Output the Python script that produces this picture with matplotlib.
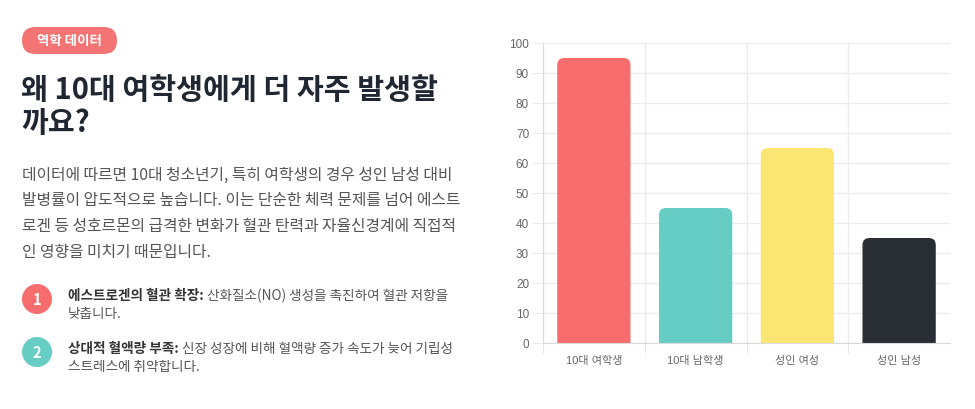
import matplotlib
matplotlib.use("Agg")
import matplotlib.pyplot as plt
from matplotlib.patches import FancyBboxPatch, Circle, PathPatch
from matplotlib.path import Path

plt.rcParams['font.family'] = ['Noto Sans CJK KR', 'DejaVu Sans']

# chart data
categories = ['10대 여학생', '10대 남학생', '성인 여성', '성인 남성']
values = [95, 45, 65, 35]
bar_colors = ['#F76D6D', '#66CDC4', '#FCE673', '#292D34']
y_ticks = list(range(0, 101, 10))

# text content
badge = '역학 데이터'
title_lines = ['왜 10대 여학생에게 더 자주 발생할', '까요?']
para_lines = [
    '데이터에 따르면 10대 청소년기, 특히 여학생의 경우 성인 남성 대비',
    '발병률이 압도적으로 높습니다. 이는 단순한 체력 문제를 넘어 에스트',
    '로겐 등 성호르몬의 급격한 변화가 혈관 탄력과 자율신경계에 직접적',
    '인 영향을 미치기 때문입니다.',
]
items = [
    ('1', '에스트로겐의 혈관 확장:', ' 산화질소(NO) 생성을 촉진하여 혈관 저항을', '낮춥니다.', '#F76D6D'),
    ('2', '상대적 혈액량 부족:', ' 신장 성장에 비해 혈액량 증가 속도가 늦어 기립성', '스트레스에 취약합니다.', '#66CDC4'),
]

W, H = 975, 410
fig = plt.figure(figsize=(W / 100, H / 100), dpi=100)
fig.patch.set_facecolor('white')

# full-figure axes in pixel units for the text panel
bg = fig.add_axes([0, 0, 1, 1])
bg.set_xlim(0, W)
bg.set_ylim(H, 0)
bg.axis('off')

bg.add_patch(FancyBboxPatch((22, 28), 95, 27, boxstyle='round,pad=0,rounding_size=13.5',
                            fc='#F47373', ec='none'))
bg.text(69.5, 41.5, badge, color='white', fontsize=9.7, fontweight='bold', ha='center', va='center')

for i, line in enumerate(title_lines):
    bg.text(21, 90 + i * 33, line, color='#1F2733', fontsize=21, fontweight='bold', va='center')

for i, line in enumerate(para_lines):
    bg.text(22, 175 + i * 25.7, line, color='#555555', fontsize=11.4, va='center')

for i, (num, head, rest, line2, col) in enumerate(items):
    cy = 300 + i * 53
    bg.add_patch(Circle((37, cy), 15, fc=col, ec='none'))
    bg.text(37, cy, num, color='white', fontsize=10.5, fontweight='bold', ha='center', va='center')
    t = bg.text(68, cy - 4, head, color='#333333', fontsize=9.8, fontweight='bold', va='center')
    bg.annotate(rest, xy=(1, 0.5), xycoords=t, color='#555555', fontsize=9.8, va='center')
    bg.text(68, cy + 14, line2, color='#555555', fontsize=9.8, va='center')

# bar chart
ax = fig.add_axes([543 / W, 1 - 344 / H, 407 / W, 300 / H])
x = list(range(len(categories)))
ax.set_xlim(-0.5, len(categories) - 0.5)
ax.set_ylim(0, 100)

bars = ax.bar(x, values, width=0.72, color=bar_colors)
bb = ax.get_window_extent()
r_px = 7
rx = r_px * len(categories) / bb.width
ry = r_px * 100 / bb.height
for rect, col in zip(bars, bar_colors):
    x0, y0, w, h = rect.get_x(), rect.get_y(), rect.get_width(), rect.get_height()
    rect.remove()
    verts = [(x0, y0), (x0, y0 + h - ry), (x0, y0 + h), (x0 + rx, y0 + h),
             (x0 + w - rx, y0 + h), (x0 + w, y0 + h), (x0 + w, y0 + h - ry),
             (x0 + w, y0), (x0, y0)]
    codes = [Path.MOVETO, Path.LINETO, Path.CURVE3, Path.CURVE3, Path.LINETO,
             Path.CURVE3, Path.CURVE3, Path.LINETO, Path.CLOSEPOLY]
    ax.add_patch(PathPatch(Path(verts, codes), fc=col, ec='none', zorder=2))

ax.set_yticks(y_ticks)
ax.set_xticks(x)
ax.set_xticklabels(categories)
ax.set_xticks([i - 0.5 for i in x], minor=True)
ax.set_axisbelow(True)
ax.grid(axis='y', which='major', color='#ECECEC', lw=1)
ax.grid(axis='x', which='minor', color='#ECECEC', lw=1)

for s in ['top', 'right']:
    ax.spines[s].set_visible(False)
for s in ['left', 'bottom']:
    ax.spines[s].set_color('#DADADA')

tick_font = ['Liberation Sans', 'Noto Sans CJK KR']
ax.tick_params(axis='y', length=8, color='#ECECEC', pad=2, labelsize=8.5, labelcolor='#666666')
ax.tick_params(axis='x', which='major', length=0, pad=9, labelsize=8, labelcolor='#666666')
ax.tick_params(axis='x', which='minor', length=7, color='#E4E4E4')
for lab in ax.get_xticklabels() + ax.get_yticklabels():
    lab.set_family(tick_font)

fig.savefig('out.png', dpi=100, facecolor='white')
